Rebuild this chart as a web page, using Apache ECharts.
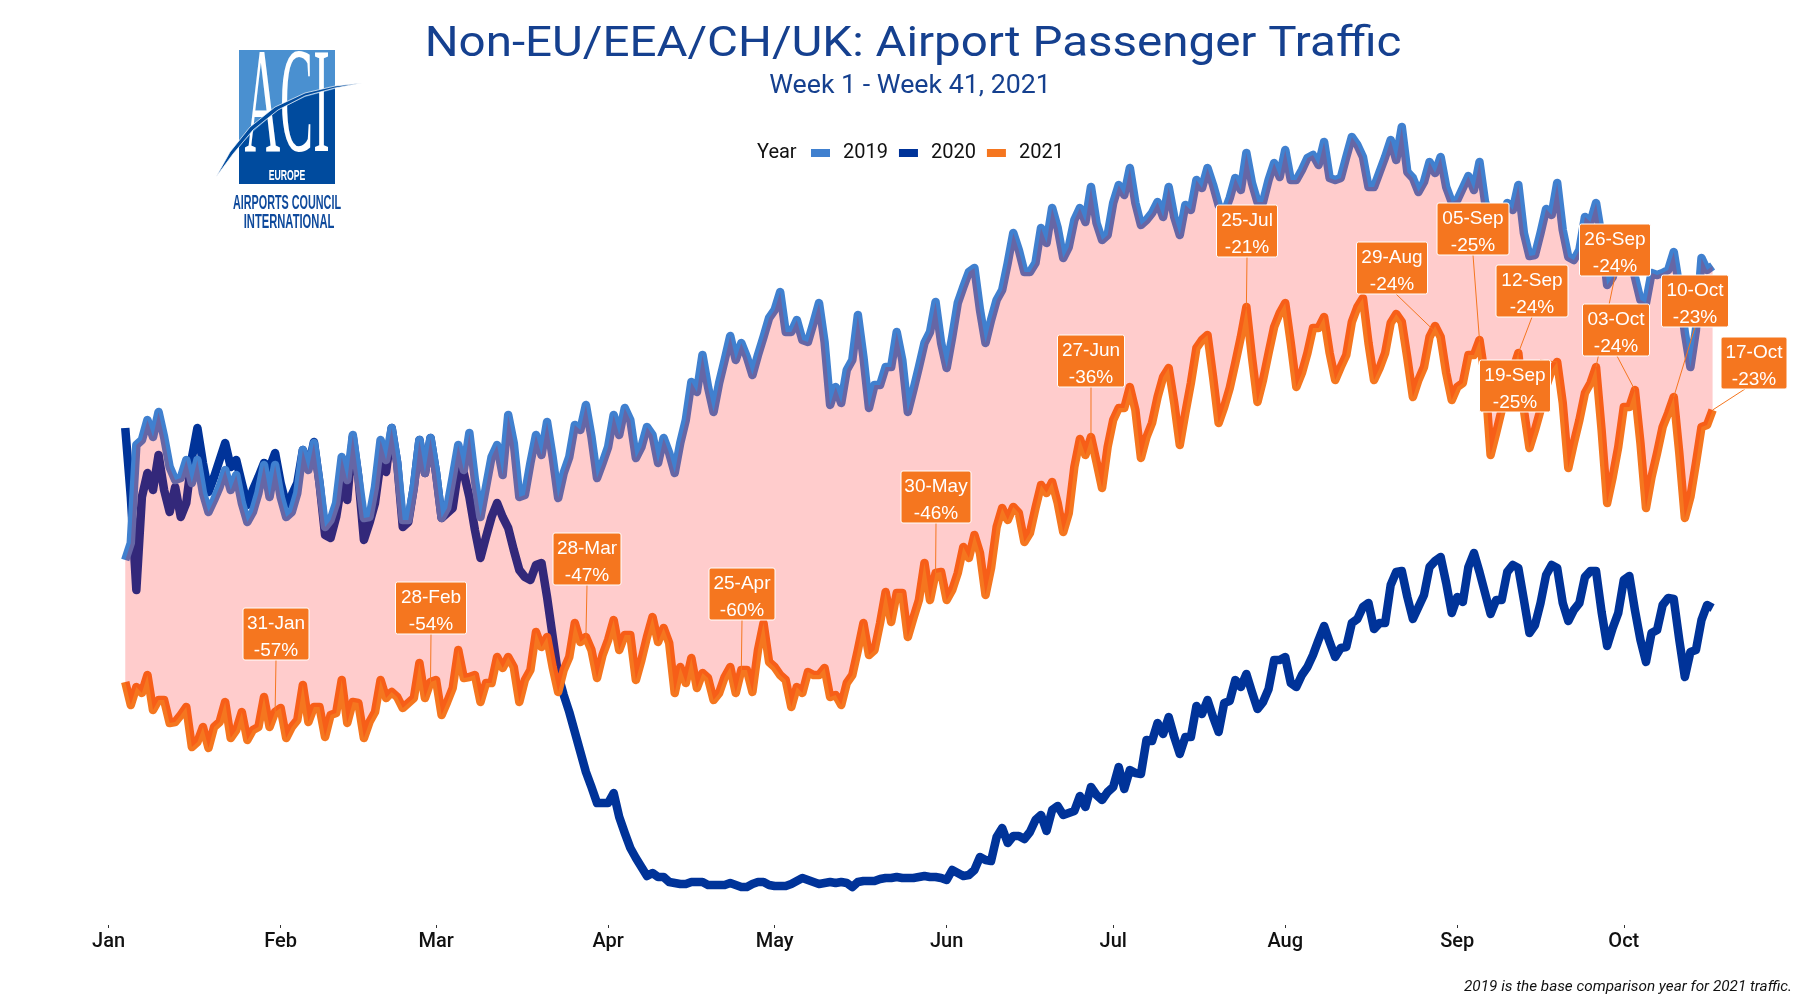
<!DOCTYPE html>
<html>
<head>
<meta charset="utf-8">
<title>Non-EU/EEA/CH/UK: Airport Passenger Traffic</title>
<script src="https://cdn.jsdelivr.net/npm/echarts@6/dist/echarts.min.js"></script>
<style>
  html, body { margin: 0; padding: 0; background: #fff; }
  #chart { width: 1800px; height: 1000px; }
</style>
</head>
<body>
<div id="chart"></div>
<script>
var monthLabels = ['Jan','Feb','Mar','Apr','May','Jun','Jul','Aug','Sep','Oct'];

// daily values from Mon 4 Jan to Sun 17 Oct, no y axis in the original so units are relative
var traffic2019 = [
  440,457,555,560,580,563,588,563,533,520,522,540,517,540,507,488,500,513,530,510,525,497,478,488,507,535,503,535,503,483,
  488,507,550,530,557,517,473,480,497,543,520,565,523,482,483,513,560,540,572,537,480,480,513,560,527,562,527,482,492,523,
  555,530,567,520,483,513,543,555,525,585,557,503,505,537,565,545,578,543,502,527,543,575,570,595,563,522,537,553,585,565,
  592,580,542,553,573,565,537,562,547,527,557,580,618,608,645,613,588,617,640,664,640,657,643,625,645,663,682,690,708,668,
  668,680,660,658,677,697,658,595,613,597,630,640,685,643,592,615,615,633,633,668,640,588,610,633,657,668,698,657,632,663,
  697,713,728,732,690,657,680,700,710,737,767,750,728,728,737,772,757,792,772,742,753,780,792,778,813,777,760,765,797,815,
  805,832,797,775,780,787,798,783,813,783,765,795,790,820,812,832,815,795,787,802,822,810,847,817,798,798,820,837,823,850,
  820,820,830,842,845,835,858,822,820,822,843,863,855,843,813,813,828,843,860,840,873,828,822,808,818,838,827,843,813,798,
  800,812,824,810,838,798,783,773,780,797,790,815,767,744,745,767,791,785,817,770,743,740,750,783,778,797,763,715,723,743,
  763,760,723,700,697,727,725,727,730,748,713,667,633,670,742,730,734
];
var traffic2020 = [
  572,503,410,503,527,510,545,510,488,513,483,497,542,572,537,508,523,540,557,533,540,517,495,510,523,537,532,547,517,495,
  505,517,550,532,558,517,465,462,483,517,500,563,523,460,477,497,538,528,572,537,473,478,513,560,527,562,527,482,487,492,
  530,527,503,470,442,463,483,497,483,472,450,430,423,420,435,437,403,364,325,305,288,268,248,228,213,197,197,197,207,183,
  167,152,142,133,124,127,123,123,118,117,116,116,118,118,118,115,115,115,115,117,115,113,113,116,118,118,115,114,114,114,
  116,119,122,120,118,116,117,118,117,118,117,113,118,119,119,119,121,122,122,123,122,122,122,123,124,123,123,122,120,130,
  127,124,125,130,143,140,139,163,172,157,164,164,161,168,180,185,169,190,194,185,187,189,204,193,213,205,200,208,213,233,
  211,230,227,226,260,259,277,266,283,263,246,263,263,294,286,300,283,268,297,299,320,313,326,308,291,298,311,340,340,343,
  317,313,325,333,345,360,374,358,343,352,353,377,381,393,397,371,377,377,415,428,429,403,381,393,405,433,439,443,417,387,
  403,398,433,447,428,407,386,400,400,428,435,432,400,367,375,397,425,435,432,397,379,390,397,423,429,429,388,354,372,387,
  420,424,390,360,338,367,370,395,402,401,360,323,348,350,380,395,392
];
var traffic2021 = [
  318,295,313,307,325,290,300,300,277,278,285,293,253,258,273,252,273,278,298,262,270,288,260,270,273,303,273,288,292,262,
  273,280,315,278,293,293,263,285,287,320,277,298,297,262,278,288,320,302,308,303,292,297,302,337,302,318,320,285,298,312,
  350,322,323,325,298,317,317,343,332,343,333,298,320,330,368,353,363,333,308,330,343,377,358,363,350,322,345,360,380,350,
  365,365,320,340,363,383,358,372,357,307,333,317,342,312,327,322,300,307,323,333,307,330,330,308,350,377,338,333,325,320,
  293,313,307,328,325,325,332,303,305,295,317,325,350,377,345,350,377,408,378,407,407,363,382,400,437,400,427,428,400,410,
  427,453,442,465,447,405,432,473,492,480,493,487,458,467,492,515,507,518,497,468,487,533,561,545,563,538,512,553,580,592,
  592,613,590,542,563,577,603,623,632,597,555,587,617,652,660,665,623,577,593,612,637,663,693,643,598,620,647,673,687,697,
  657,613,627,647,672,672,683,647,620,633,645,678,693,702,657,620,632,647,677,686,678,642,603,620,633,663,674,663,627,600,
  613,617,645,645,660,623,545,567,590,613,630,647,590,552,570,590,613,630,638,597,532,557,580,607,617,633,570,497,523,553,
  593,593,610,557,492,523,547,573,587,603,547,482,503,537,573,575,590
];

var labelDays = ['01-31','02-28','03-28','04-25','05-30','06-27','07-25','08-29','09-05','09-12','09-19','09-26','10-03','10-10','10-17'];
var labelDates = ['31-Jan','28-Feb','28-Mar','25-Apr','30-May','27-Jun','25-Jul','29-Aug','05-Sep','12-Sep','19-Sep','26-Sep','03-Oct','10-Oct','17-Oct'];
var labelPcts = ['-57%','-54%','-47%','-60%','-46%','-36%','-21%','-24%','-25%','-24%','-25%','-24%','-24%','-23%','-23%'];

// where each label box sits on the page: centre x, centre y, width, x where the leader leaves it
var labelBoxes = [
  [276,634,66,276],[431,608,71,431],[587,559,68,587],[742,594,66,742],[936,497,70,936],
  [1091,361,67,1091],[1247,231,61,1247],[1392,268,71,1396],[1473,229,72,1473],[1532,291,72,1532],
  [1515,386,71,1540],[1615,250,71,1615],[1616,330,67,1617],[1695,301,67,1695],[1754,363,66,1745]
];

var fontName = 'Roboto';
var titleBlue = '#15408f';
var blue2019 = '#4080cf';
var blue2020 = '#003399';
var orange2021 = '#f5761f';

var days = [];
var d = new Date(Date.UTC(2021, 0, 1));
while (d.getUTCMonth() < 9 || d.getUTCDate() <= 17) {
  days.push(d.toISOString().slice(0, 10));
  d.setUTCDate(d.getUTCDate() + 1);
}
var lead = [null, null, null]; // the weeks start on 4 Jan

var labelData = labelDays.map(function(md, i) {
  var idx = days.indexOf('2021-' + md);
  return [idx, traffic2021[idx - 3], i];
});

function renderLabel(params, api) {
  var p = api.coord([api.value(0), api.value(1)]);
  var i = api.value(2);
  var b = labelBoxes[i];
  var h = 52;
  var fromY = p[1] > b[1] ? b[1] + h / 2 : b[1] - h / 2;
  return {
    type: 'group',
    children: [
      { type: 'line', shape: { x1: b[3], y1: fromY, x2: p[0], y2: p[1] }, style: { stroke: orange2021, lineWidth: 1 } },
      { type: 'rect', shape: { x: b[0] - b[2] / 2, y: b[1] - h / 2, width: b[2], height: h, r: 2 }, style: { fill: orange2021, stroke: '#fff', lineWidth: 1 } },
      { type: 'text', x: b[0], y: b[1] - 10, style: { text: labelDates[i], fill: '#fff', font: '19px "Liberation Sans"', textAlign: 'center', textVerticalAlign: 'middle' } },
      { type: 'text', x: b[0], y: b[1] + 17, style: { text: labelPcts[i], fill: '#fff', font: '19px "Liberation Sans"', textAlign: 'center', textVerticalAlign: 'middle' } }
    ]
  };
}

// the pink band goes over the lines, that is why they tint where they touch it
function renderRibbon(params, api) {
  var top = traffic2019.map(function(v, i) { return api.coord([i + lead.length, v]); });
  var bottom = traffic2021.map(function(v, i) { return api.coord([i + lead.length, v]); }).reverse();
  return {
    type: 'polygon',
    shape: { points: top.concat(bottom) },
    style: { fill: 'rgba(255,0,0,0.2)', stroke: null }
  };
}

function lineSeries(name, values, color) {
  return {
    name: name,
    type: 'line',
    data: lead.concat(values),
    symbol: 'none',
    animation: false,
    silent: true,
    lineStyle: { color: color, width: 8.5, join: 'round' },
    itemStyle: { color: color }
  };
}

function centred(x, y, text, fill, font, scaleX) {
  return { type: 'text', x: x, y: y, scaleX: scaleX || 1, style: { text: text, fill: fill, font: font, textAlign: 'center', textVerticalAlign: 'middle' } };
}

var logo = [
  { type: 'rect', shape: { x: 239, y: 50, width: 96, height: 134 }, style: { fill: '#4a90d0' } },
  { type: 'polygon', shape: { points: [[239,146],[255,130],[278,110],[305,97],[335,89],[335,184],[239,184]] }, style: { fill: '#004b9e' } },
  centred(287, 112, 'ACI', '#fff', '150px "Liberation Serif"', 0.33),
  { type: 'polygon', shape: { points: [[216,177],[230,152],[250,127],[275,107],[305,93],[335,86],[362,83],[335,88],[305,96],[278,110],[253,130],[233,154]] }, style: { fill: '#004b9e', stroke: '#fff', lineWidth: 0.7 } },
  centred(287, 176, 'EUROPE', '#fff', 'bold 14px "Liberation Sans"', 0.62),
  centred(287, 203, 'AIRPORTS COUNCIL', '#0f4a9c', 'bold 20px "Liberation Sans"', 0.54),
  centred(289, 222, 'INTERNATIONAL', '#0f4a9c', 'bold 20px "Liberation Sans"', 0.56)
];

var chart = echarts.init(document.getElementById('chart'));
chart.setOption({
  animation: false,
  backgroundColor: '#fff',
  legend: {
    data: ['2019', '2020', '2021'],
    left: 806,
    top: 138,
    icon: 'rect',
    itemWidth: 19,
    itemHeight: 8,
    itemGap: 11,
    selectedMode: false,
    textStyle: { color: '#111', fontFamily: fontName, fontSize: 20, padding: [0, 0, 0, 8] }
  },
  graphic: logo.concat([
    centred(913, 45, 'Non-EU/EEA/CH/UK: Airport Passenger Traffic', titleBlue, '43px Roboto', 1.105),
    centred(910, 87, 'Week 1 - Week 41, 2021', titleBlue, '25px Roboto', 1.07),
    { type: 'text', x: 757, y: 153, style: { text: 'Year', fill: '#111', font: '20px Roboto', textVerticalAlign: 'middle' } },
    { type: 'text', x: 1792, y: 987, style: { text: '2019 is the base comparison year for 2021 traffic.', fill: '#111', font: 'italic 15.3px Roboto', textAlign: 'right', textVerticalAlign: 'middle' } }
  ]),
  grid: { left: 108.6, width: 1604, top: 0, height: 925 },
  xAxis: {
    type: 'category',
    data: days,
    boundaryGap: false,
    axisLine: { show: false },
    axisTick: {
      length: 3,
      lineStyle: { color: '#333' },
      interval: function(i, v) { return v.slice(8) === '01'; }
    },
    axisLabel: {
      margin: 7,
      color: '#111',
      fontFamily: fontName,
      fontSize: 20,
      fontWeight: 500,
      interval: function(i, v) { return v.slice(8) === '01'; },
      formatter: function(v) { return monthLabels[parseInt(v.slice(5, 7), 10) - 1]; }
    },
    splitLine: { show: false }
  },
  yAxis: { type: 'value', min: 75, max: 1000, show: false },
  tooltip: { show: false },
  series: [
    lineSeries('2020', traffic2020, blue2020),
    lineSeries('2019', traffic2019, blue2019),
    lineSeries('2021', traffic2021, orange2021),
    { type: 'custom', data: [[lead.length, traffic2021[0]]], renderItem: renderRibbon, encode: { x: 0, y: 1 }, clip: false, silent: true, z: 4 },
    { type: 'custom', data: labelData, renderItem: renderLabel, encode: { x: 0, y: 1 }, clip: false, silent: true, z: 5 }
  ]
});
</script>
</body>
</html>
